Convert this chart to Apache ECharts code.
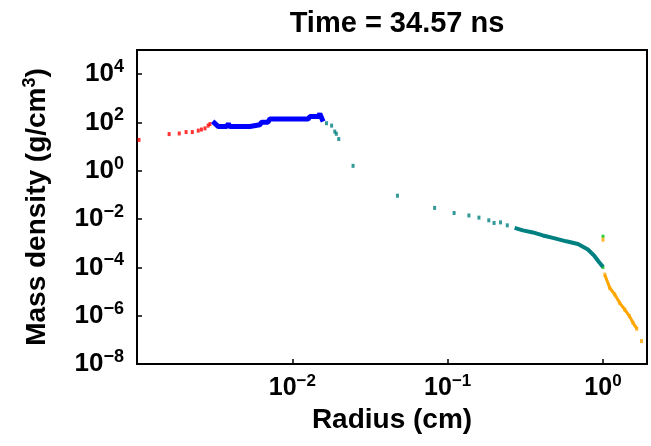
<!DOCTYPE html>
<html>
<head>
<meta charset="utf-8">
<script src="https://cdn.jsdelivr.net/npm/echarts@6/dist/echarts.min.js"></script>
<style>html,body{margin:0;padding:0;background:#fff;}#c{width:651px;height:446px;}</style>
</head>
<body>
<div id="c"></div>
<script>
const titleText = 'Time = 34.57 ns';
const xName = 'Radius (cm)';
const yName = 'Mass density (g/cm{sup|3})';

const redX = [0.00103, 0.00161, 0.00187, 0.00207, 0.00227, 0.00248, 0.0026, 0.00274, 0.00287, 0.00295];
const redY = [19, 33, 35, 40, 40, 46, 51, 57, 74, 86];

const blueX = [0.00307, 0.00334, 0.00378, 0.00387, 0.00396, 0.00533, 0.00547, 0.00618, 0.00634, 0.00696, 0.00716, 0.01264, 0.01297, 0.01466, 0.01503, 0.01578];
const blueY = [110, 68, 68, 90, 68, 68, 81, 81, 101, 101, 138, 138, 175, 175, 228, 110];

const tealX = [0.0166, 0.0179, 0.01876, 0.0192, 0.0199, 0.0246, 0.0475, 0.0824, 0.110, 0.137, 0.159, 0.184, 0.199, 0.219, 0.242];
const tealY = [93, 74, 42, 34, 20.6, 1.6, 0.093, 0.029, 0.0178, 0.0141, 0.0115, 0.0089, 0.0069, 0.0073, 0.0055];

const tealDenseX = [0.27, 0.305, 0.354, 0.41, 0.476, 0.58, 0.69, 0.80, 0.883, 0.95, 1.0];
const tealDenseY = [0.0043, 0.0034, 0.0028, 0.0021, 0.00166, 0.0012, 0.00093, 0.00055, 0.00029, 0.000155, 0.000105];

const greenX = [1.0, 1.0];
const greenY = [0.000100, 0.00195];

const orangeX = [1.0, 1.027, 1.106, 1.19, 1.28, 1.38, 1.48, 1.56, 1.65, 1.77];
const orangeY = [0.0014, 5e-5, 1.4e-5, 7.6e-6, 3.4e-6, 1.8e-6, 9.6e-7, 5.1e-7, 2.9e-7, 8.9e-8];

const xTickExps = [-2, -1, 0];
const yTickExps = [-8, -6, -4, -2, 0, 2, 4];

const zip = (a, b) => a.map((v, i) => [v, b[i]]);
const FONT = 'Liberation Sans';

function expLabel(v, allowed) {
  const l = Math.log10(v);
  const e = Math.round(l);
  if (Math.abs(l - e) > 1e-6 || allowed.indexOf(e) < 0) return '';
  return '10{sup|' + (e < 0 ? '\u2212' + (-e) : String(e)) + '}';
}

const chart = echarts.init(document.getElementById('c'), null, {renderer: 'canvas'});
const option = {
  backgroundColor: '#fff',
  animation: false,
  title: {
    text: titleText, left: 392, top: 4, textAlign: 'center',
    textStyle: {fontFamily: FONT, fontWeight: 'bold', fontSize: 29, color: '#000'}
  },
  grid: {left: 137, right: 4, top: 50, bottom: 82, show: true, borderColor: '#000', borderWidth: 2, backgroundColor: 'transparent'},
  xAxis: {
    type: 'log', logBase: 10, min: 0.001, max: 1.92,
    name: xName, nameLocation: 'middle', nameGap: 39,
    nameTextStyle: {fontFamily: FONT, fontWeight: 'bold', fontSize: 28, color: '#000'},
    axisLine: {show: false},
    axisTick: {show: true, inside: true, length: 5, lineStyle: {color: '#000', width: 1.5}},
    splitLine: {show: false}, minorTick: {show: false},
    axisLabel: {
      margin: 9, color: '#000', fontFamily: FONT, fontWeight: 'bold', fontSize: 25,
      formatter: v => expLabel(v, xTickExps),
      rich: {sup: {fontFamily: FONT, fontWeight: 'bold', fontSize: 17, color: '#000', padding: [0, 0, 14, 0]}}
    }
  },
  yAxis: {
    type: 'log', logBase: 10, min: 1e-8, max: 1e5, interval: 2,
    name: yName, nameLocation: 'middle', nameGap: 84,
    nameTextStyle: {fontFamily: FONT, fontWeight: 'bold', fontSize: 28, color: '#000',
      rich: {sup: {fontFamily: FONT, fontWeight: 'bold', fontSize: 18, color: '#000', padding: [0, 0, 14, 0]}}},
    axisLine: {show: false},
    axisTick: {show: true, inside: true, length: 5, lineStyle: {color: '#000', width: 1.5}},
    splitLine: {show: false}, minorTick: {show: false},
    axisLabel: {
      margin: 13, color: '#000', fontFamily: FONT, fontWeight: 'bold', fontSize: 26,
      formatter: v => expLabel(v, yTickExps),
      rich: {sup: {fontFamily: FONT, fontWeight: 'bold', fontSize: 18, color: '#000', padding: [0, 0, 14, 0]}}
    }
  },
  series: [
    {type: 'scatter', data: zip(redX, redY), symbol: 'rect', symbolSize: [3, 4], itemStyle: {color: '#ff0000'}},
    {type: 'line', data: zip(blueX, blueY), showSymbol: false, lineStyle: {color: '#0000ff', width: 5}},
    {type: 'scatter', data: zip(tealX, tealY), symbol: 'rect', symbolSize: [3, 4], itemStyle: {color: '#008080'}},
    {type: 'line', data: zip(tealDenseX, tealDenseY), showSymbol: false, lineStyle: {color: '#008080', width: 4}},
    {type: 'line', data: zip(orangeX.slice(1, 9), orangeY.slice(1, 9)), showSymbol: false, lineStyle: {color: '#ffa500', width: 3}},
    {type: 'scatter', data: zip(orangeX, orangeY), symbol: 'rect', symbolSize: [3, 4], itemStyle: {color: '#ffa500'}},
    {type: 'scatter', data: zip(greenX, greenY), symbol: 'rect', symbolSize: [3, 3], itemStyle: {color: '#00c000'}}
  ]
};
chart.setOption(option);
</script>
</body>
</html>
